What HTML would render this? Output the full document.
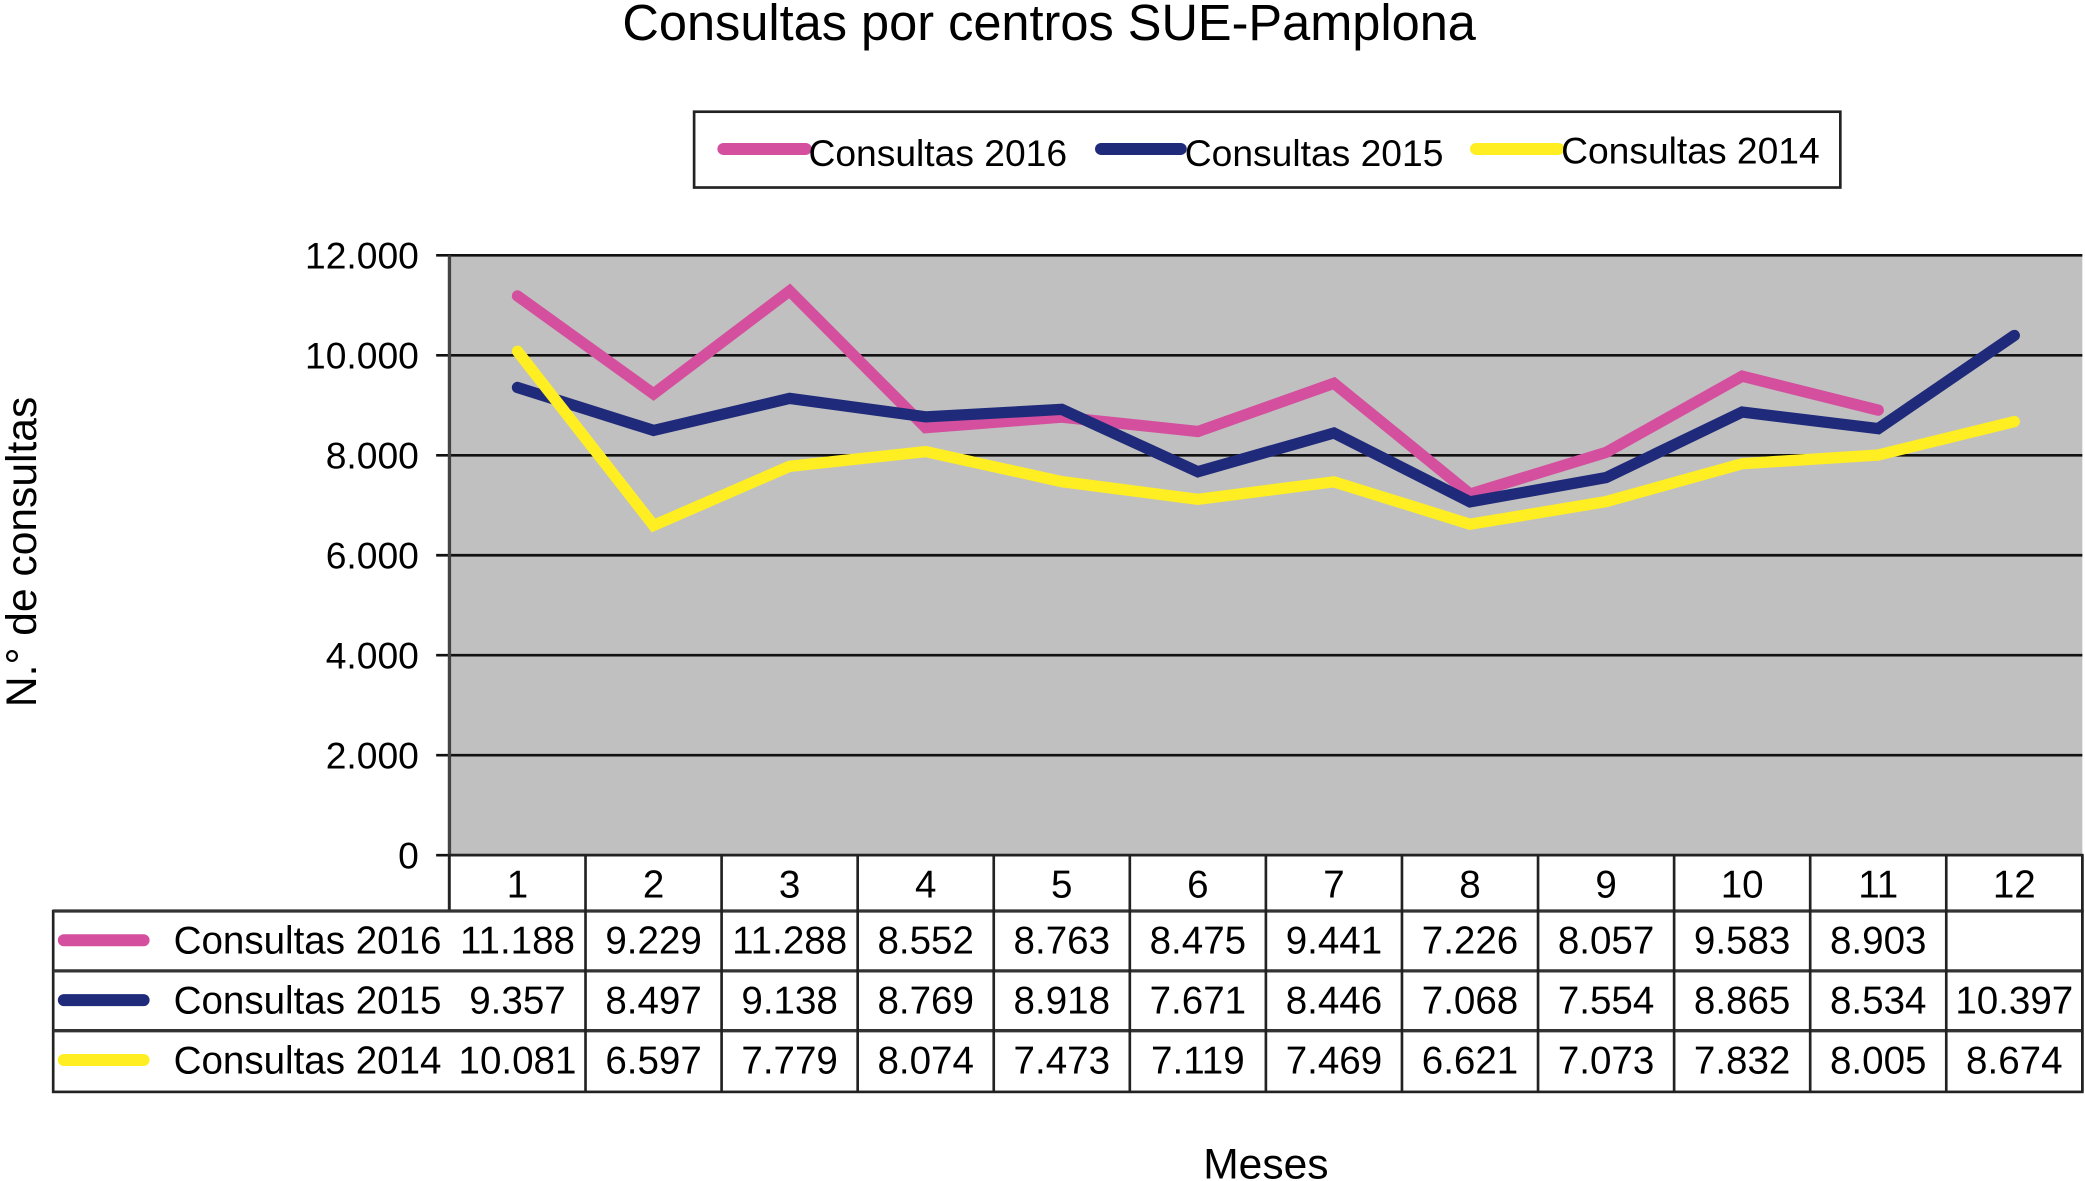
<!DOCTYPE html>
<html><head><meta charset="utf-8"><style>
html,body{margin:0;padding:0;background:#fff;}
svg{display:block;font-family:"Liberation Sans",Arial,sans-serif;}
</style></head><body>
<svg id="chart" width="2085" height="1181" viewBox="0 0 1568 888" preserveAspectRatio="none" xmlns="http://www.w3.org/2000/svg">
<text x="789" y="30" font-size="38" text-anchor="middle">Consultas por centros SUE-Pamplona</text>
<g>
<rect x="522" y="84" width="862" height="57" fill="#fff" stroke="#222" stroke-width="2"/>
<line x1="544" y1="112" x2="606" y2="112" stroke="#d4509e" stroke-width="9" stroke-linecap="round"/>
<text x="608" y="125" font-size="28">Consultas 2016</text>
<line x1="828" y1="112" x2="888" y2="112" stroke="#1f2a7a" stroke-width="9" stroke-linecap="round"/>
<text x="891" y="125" font-size="28">Consultas 2015</text>
<line x1="1110" y1="112" x2="1172" y2="112" stroke="#ffee22" stroke-width="9" stroke-linecap="round"/>
<text x="1174" y="123" font-size="28">Consultas 2014</text>
</g>
<rect x="338" y="192" width="1228" height="451" fill="#c0c0c0"/>
<g id="grid"></g>
<g id="lines"></g>
<g id="table"></g>
<text transform="translate(27,415) rotate(-90)" font-size="32" text-anchor="middle">N.° de consultas</text>
<text x="952" y="886" font-size="32" text-anchor="middle">Meses</text>
</svg>
<script>
const categories = ["1","2","3","4","5","6","7","8","9","10","11","12"];
const seriesNames = ["Consultas 2016","Consultas 2015","Consultas 2014"];
const s2016 = [11188,9229,11288,8552,8763,8475,9441,7226,8057,9583,8903,null];
const s2015 = [9357,8497,9138,8769,8918,7671,8446,7068,7554,8865,8534,10397];
const s2014 = [10081,6597,7779,8074,7473,7119,7469,6621,7073,7832,8005,8674];
const yTicks = [0,2000,4000,6000,8000,10000,12000];
const colors = ["#d4509e","#1f2a7a","#ffee22"];
const NS="http://www.w3.org/2000/svg";
const X0=338,X1=1566,Y0=643,Y1=192,YMAX=12000;
const colW=(X1-X0)/categories.length;
const xPos=i=>X0+colW*(i+0.5);
const yPos=v=>Y0-(v/YMAX)*(Y0-Y1);
const fmt=v=>v==null?"":(v>=1000?Math.floor(v/1000)+"."+String(v%1000).padStart(3,"0"):String(v));
function mk(tag,attrs,parent){const e=document.createElementNS(NS,tag);for(const k in attrs)e.setAttribute(k,attrs[k]);parent.appendChild(e);return e;}
const grid=document.getElementById('grid');
yTicks.forEach(t=>{
  const y=yPos(t);
  const l=mk('line',{x1:X0-10,x2:X1,y1:y,y2:y,stroke:'#111','stroke-width':2},grid);
  
  
  const tx=mk('text',{x:315,y:y+10,'font-size':28,'text-anchor':'end'},grid);
  tx.textContent=fmt(t);
  
  
});
const ax=mk('line',{x1:X0,x2:X0,y1:Y1,y2:821,stroke:'#444','stroke-width':2.5},grid);


const lines=document.getElementById('lines');
[s2016,s2015,s2014].forEach((s,si)=>{
  let d="";let started=false;
  s.forEach((v,i)=>{if(v==null)return;d+=(started?"L":"M")+xPos(i)+","+yPos(v);started=true;});
  const p=mk('path',{d:d,fill:'none',stroke:colors[si],'stroke-width':8.5,'stroke-linejoin':'miter','stroke-linecap':'round'},lines);
  
  
});
const tb=document.getElementById('table');
const rowsY=[643,685,730,775,821];
mk('rect',{x:X0,y:643,width:X1-X0,height:42,fill:'#fff',stroke:'#222','stroke-width':2},tb);
mk('rect',{x:40,y:685,width:X1-40,height:136,fill:'#fff',stroke:'#222','stroke-width':2},tb);
for(let r=1;r<4;r++){mk('line',{x1:40,x2:X1,y1:rowsY[r],y2:rowsY[r],stroke:'#333','stroke-width':2.5},tb);}
for(let i=1;i<=categories.length;i++){mk('line',{x1:X0+colW*i,x2:X0+colW*i,y1:643,y2:821,stroke:'#222','stroke-width':2},tb);}
categories.forEach((c,i)=>{
  const t=mk('text',{x:xPos(i),y:675,'font-size':29,'text-anchor':'middle'},tb);
  t.textContent=c;
  
  
});
[s2016,s2015,s2014].forEach((s,si)=>{
  const yTop=rowsY[si+1];
  mk('line',{x1:48,x2:108,y1:yTop+22,y2:yTop+22,stroke:colors[si],'stroke-width':9,'stroke-linecap':'round'},tb);
  const lab=mk('text',{x:332,y:yTop+32,'font-size':29,'text-anchor':'end'},tb);
  lab.textContent=seriesNames[si];
  
  
  s.forEach((v,i)=>{
    const t=mk('text',{x:xPos(i),y:yTop+32,'font-size':29,'text-anchor':'middle'},tb);
    t.textContent=fmt(v);
    
    
  });
});
</script>
</body></html>
